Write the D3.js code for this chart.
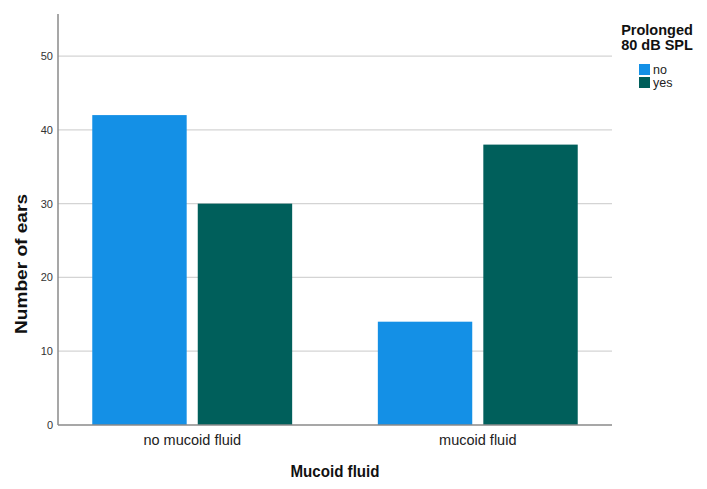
<!DOCTYPE html>
<html lang="en">
<head>
  <meta charset="UTF-8">
  <title>Mucoid fluid</title>
  <script src="https://d3js.org/d3.v7.min.js"></script>
  <style>
    html, body {
      margin: 0;
      padding: 0;
      background: white;
      font-family: "Liberation Sans", Arial, sans-serif;
    }
    svg { display: block; }
  </style>
</head>
<body>
<svg width="707" height="489"></svg>
<script>
const categories = ["no mucoid fluid", "mucoid fluid"];
const groups = ["no", "yes"];
const valuesNo = [42, 14];
const valuesYes = [30, 38];
const yTicks = [0, 10, 20, 30, 40, 50];
const colors = ["#1490e6", "#005f5b"];

const svg = d3.select("svg");
const plotLeft = 58, plotRight = 612, plotTop = 14, plotBottom = 425;

const x0 = d3.scaleBand().domain(categories).range([plotLeft, plotRight])
  .paddingInner(0.3).paddingOuter(0.12);
const x1 = d3.scaleBand().domain(groups).range([0, x0.bandwidth()])
  .paddingInner(0.105);
const y = d3.scaleLinear().domain([0, 55.7]).range([plotBottom, plotTop]);

// gridlines
svg.append("g")
  .selectAll("line")
  .data(yTicks.filter(d => d > 0))
  .join("line")
  .attr("x1", plotLeft).attr("x2", plotRight)
  .attr("y1", d => y(d)).attr("y2", d => y(d))
  .attr("stroke", "#d4d4d4")
  .attr("stroke-width", 1.3);

// bars
const rows = categories.map((c, i) => ({ cat: c, vals: [valuesNo[i], valuesYes[i]] }));
svg.append("g")
  .selectAll("g")
  .data(rows)
  .join("g")
  .attr("transform", d => `translate(${x0(d.cat)},0)`)
  .selectAll("rect")
  .data(d => d.vals.map((v, j) => ({ g: groups[j], v: v, j: j })))
  .join("rect")
  .attr("x", d => x1(d.g))
  .attr("width", x1.bandwidth())
  .attr("y", d => y(d.v))
  .attr("height", d => plotBottom - y(d.v))
  .attr("fill", d => colors[d.j]);

// y axis
const yAxis = svg.append("g")
  .attr("transform", `translate(${plotLeft},0)`)
  .call(d3.axisLeft(y).tickValues(yTicks).tickSize(0).tickPadding(5));
yAxis.select(".domain").remove();
yAxis.selectAll("text")
  .attr("font-family", "'Liberation Sans', Arial, sans-serif")
  .attr("font-size", "11px")
  .attr("fill", "#333");

// x axis
const xAxis = svg.append("g")
  .attr("transform", `translate(0,${plotBottom})`)
  .call(d3.axisBottom(x0).tickSize(0).tickPadding(10));
xAxis.select(".domain").remove();
xAxis.selectAll("text")
  .attr("font-family", "'Liberation Sans', Arial, sans-serif")
  .attr("font-size", "14.5px")
  .attr("fill", "#222");

// axis lines
svg.append("line")
  .attr("x1", plotLeft).attr("x2", plotLeft)
  .attr("y1", plotTop).attr("y2", plotBottom)
  .attr("stroke", "#8a8a8a").attr("stroke-width", 1.5);
svg.append("line")
  .attr("x1", plotLeft).attr("x2", plotRight)
  .attr("y1", plotBottom).attr("y2", plotBottom)
  .attr("stroke", "#8a8a8a").attr("stroke-width", 1.5);

// axis titles
svg.append("text")
  .attr("x", (plotLeft + plotRight) / 2)
  .attr("y", 477)
  .attr("text-anchor", "middle")
  .attr("font-size", "16px")
  .attr("font-weight", "bold")
  .attr("fill", "#111")
  .attr("textLength", 89)
  .attr("lengthAdjust", "spacingAndGlyphs")
  .text("Mucoid fluid");

svg.append("text")
  .attr("transform", "translate(27,264) rotate(-90)")
  .attr("text-anchor", "middle")
  .attr("font-size", "16px")
  .attr("font-weight", "bold")
  .attr("fill", "#111")
  .attr("textLength", 140)
  .attr("lengthAdjust", "spacingAndGlyphs")
  .text("Number of ears");

// legend
const legend = svg.append("g");
const legendTitle = legend.append("text")
  .attr("text-anchor", "middle")
  .attr("font-size", "14.5px")
  .attr("font-weight", "bold")
  .attr("fill", "#111");
legendTitle.append("tspan").attr("x", 657).attr("y", 35).text("Prolonged");
legendTitle.append("tspan").attr("x", 657).attr("y", 50).text("80 dB SPL");

const items = legend.selectAll("g.item")
  .data(groups)
  .join("g")
  .attr("class", "item")
  .attr("transform", (d, i) => `translate(639,${64 + i * 13})`);
items.append("rect")
  .attr("width", 11).attr("height", 11)
  .attr("fill", (d, i) => colors[i]);
items.append("text")
  .attr("x", 14).attr("y", 10)
  .attr("font-size", "12.5px")
  .attr("fill", "#222")
  .text(d => d);
</script>
</body>
</html>
